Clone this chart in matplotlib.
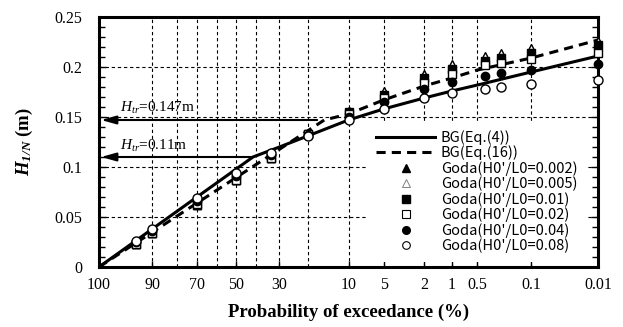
import numpy as np
import matplotlib.pyplot as plt
from matplotlib.lines import Line2D

plt.rcParams['font.family'] = 'Liberation Serif'
plt.rcParams['mathtext.fontset'] = 'custom'
plt.rcParams['mathtext.rm'] = 'Liberation Serif'
plt.rcParams['mathtext.it'] = 'Liberation Serif:italic'
plt.rcParams['mathtext.bf'] = 'Liberation Serif:bold'
plt.rcParams['mathtext.bfit'] = 'Liberation Serif:italic:bold'

# exceedance probability (%) of the Goda points
p_goda = [95, 90, 70, 50, 33.3, 20, 10, 5, 2, 1, 0.4, 0.25, 0.1, 0.01]
h_0002 = [0.023, 0.034, 0.062, 0.087, 0.109, 0.133, 0.156, 0.175, 0.192, 0.202, 0.210, 0.213, 0.218, 0.225]
h_0005 = [0.023, 0.034, 0.062, 0.087, 0.109, 0.133, 0.156, 0.176, 0.193, 0.203, 0.211, 0.214, 0.219, 0.226]
h_001 = [0.023, 0.034, 0.062, 0.087, 0.109, 0.133, 0.155, 0.172, 0.189, 0.198, 0.206, 0.209, 0.214, 0.222]
h_002 = [0.023, 0.034, 0.063, 0.087, 0.109, 0.133, 0.153, 0.169, 0.184, 0.193, 0.202, 0.204, 0.208, 0.214]
h_004 = [0.025, 0.036, 0.066, 0.091, 0.112, 0.132, 0.150, 0.165, 0.178, 0.185, 0.191, 0.194, 0.197, 0.203]
h_008 = [0.026, 0.038, 0.069, 0.094, 0.114, 0.131, 0.147, 0.158, 0.169, 0.174, 0.178, 0.180, 0.183, 0.187]

# BG distribution curves
p_bg4 = [100, 41.6, 30, 20, 10, 5, 2, 1, 0.5, 0.1, 0.01]
h_bg4 = [0, 0.110, 0.120, 0.131, 0.147, 0.158, 0.169, 0.176, 0.182, 0.195, 0.211]
p_bg16 = [100, 15.3, 10, 5, 2, 1, 0.5, 0.1, 0.01]
h_bg16 = [0, 0.147, 0.153, 0.167, 0.181, 0.189, 0.197, 0.209, 0.227]

# transitional wave heights
htr = [0.147, 0.11]
p_tr = [17.2, 41.6]

x_ticks = [100, 90, 70, 50, 30, 10, 5, 2, 1, 0.5, 0.1, 0.01]
x_labels = ['100', '90', '70', '50', '30', '10', '5', '2', '1', '0.5', '0.1', '0.01']
x_grid_extra = [80, 60, 40, 20]
y_ticks = [0, 0.05, 0.1, 0.15, 0.2, 0.25]
y_labels = ['0', '0.05', '0.1', '0.15', '0.2', '0.25']


# Rayleigh probability paper: sqrt(-ln(P)), 100 % maps to 0
def fwd(p):
    p = np.clip(np.asarray(p, dtype=float), 1e-9, 100)
    return np.sqrt(-np.log(p / 100.0))


def inv(r):
    return 100.0 * np.exp(-np.square(r))


fig = plt.figure(figsize=(6.23, 3.27), dpi=100)
ax = fig.add_axes([99 / 623, 60 / 327, 499 / 623, 250 / 327])
ax.set_xscale('function', functions=(fwd, inv))

ax.set_xticks(x_ticks, x_labels)
ax.set_xticks(x_grid_extra, minor=True)
ax.set_yticks(y_ticks, y_labels)
ax.set_yticks(np.arange(0, 0.251, 0.01), minor=True)

ax.grid(True, which='both', axis='x', color='k', lw=0.8, ls=(0, (3, 2.5)))
ax.grid(True, which='major', axis='y', color='k', lw=0.8, ls=(0, (3, 2.5)))
ax.set_axisbelow(True)

ax.tick_params(axis='x', which='both', direction='in', length=4, width=1, top=False,
               labelsize=11.5, pad=7)
ax.tick_params(axis='x', which='minor', length=0)
ax.tick_params(axis='y', which='both', direction='in', left=True, right=True,
               labelsize=11.5, pad=12, width=1)
ax.tick_params(axis='y', which='major', length=5)
ax.tick_params(axis='y', which='minor', length=4)
for s in ax.spines.values():
    s.set_linewidth(2.2)

ax.plot(p_bg4, h_bg4, color='k', lw=2.2, zorder=3, label='BG(Eq.(4))')
ax.plot(p_bg16, h_bg16, color='k', lw=2.2, ls=(0, (3, 2)), zorder=3, label='BG(Eq.(16))')

mk = dict(ls='none', mec='k', mew=1.0, zorder=4, clip_on=False)
ax.plot(p_goda, h_0002, marker='^', ms=6, mfc='k', **mk)
ax.plot(p_goda, h_0005, marker='^', ms=6, mfc='w', **mk)
ax.plot(p_goda, h_001, marker='s', ms=5.5, mfc='k', **mk)
ax.plot(p_goda, h_002, marker='s', ms=5.5, mfc='w', **mk)
ax.plot(p_goda, h_004, marker='o', ms=6, mfc='k', **mk)
ax.plot(p_goda, h_008, marker='o', ms=6.5, mfc='w', **mk)

# the transform decreases with p, so limits go in ascending p order
ax.set_xlim(0.01, 100)
ax.set_ylim(0, 0.25)

# arrows marking Htr
for h, p in zip(htr, p_tr):
    ax.annotate('', xy=(0.004, h), xycoords=('axes fraction', 'data'),
                xytext=(p, h), textcoords='data',
                arrowprops=dict(arrowstyle='-|>,head_length=0.9,head_width=0.25',
                                color='k', lw=1.5, shrinkA=0, shrinkB=0), zorder=5)
ax.text(0.042, 0.1555, r'$H_{tr}$=0.147m', transform=ax.get_yaxis_transform(),
        fontsize=11, va='baseline')
ax.text(0.042, 0.1175, r'$H_{tr}$=0.11m', transform=ax.get_yaxis_transform(),
        fontsize=11, va='baseline')

ax.set_xlabel('Probability of exceedance (%)', fontsize=13.5, fontweight='bold', labelpad=8)
ax.set_ylabel(r'$\mathbfit{H}_{\mathbfit{1/N}}$ (m)', fontsize=13.5, fontweight='bold', labelpad=14)

handles = [
    Line2D([], [], color='k', lw=2.2),
    Line2D([], [], color='k', lw=2.2, ls=(0, (3, 2))),
    Line2D([], [], ls='none', marker='^', ms=5.5, mfc='k', mec='k'),
    Line2D([], [], ls='none', marker='^', ms=5.5, mfc='w', mec='0.5', mew=0.7),
    Line2D([], [], ls='none', marker='s', ms=5.5, mfc='k', mec='k'),
    Line2D([], [], ls='none', marker='s', ms=5.5, mfc='w', mec='k', mew=0.8),
    Line2D([], [], ls='none', marker='o', ms=5.5, mfc='k', mec='k'),
    Line2D([], [], ls='none', marker='o', ms=5.5, mfc='w', mec='k', mew=0.8),
]
labels = ['BG(Eq.(4))', 'BG(Eq.(16))',
          "Goda(H0'/L0=0.002)", "Goda(H0'/L0=0.005)", "Goda(H0'/L0=0.01)",
          "Goda(H0'/L0=0.02)", "Goda(H0'/L0=0.04)", "Goda(H0'/L0=0.08)"]
leg = ax.legend(handles, labels, loc='lower right', bbox_to_anchor=(0.976, 0.02),
                prop={'family': 'Noto Sans CJK JP', 'size': 10.5},
                frameon=True, facecolor='w', edgecolor='none', framealpha=1,
                fancybox=False, handlelength=4.0, handletextpad=0.4,
                labelspacing=0.05, borderpad=0.6, borderaxespad=0)
leg.set_zorder(6)

fig.savefig('out.png', dpi=100)
